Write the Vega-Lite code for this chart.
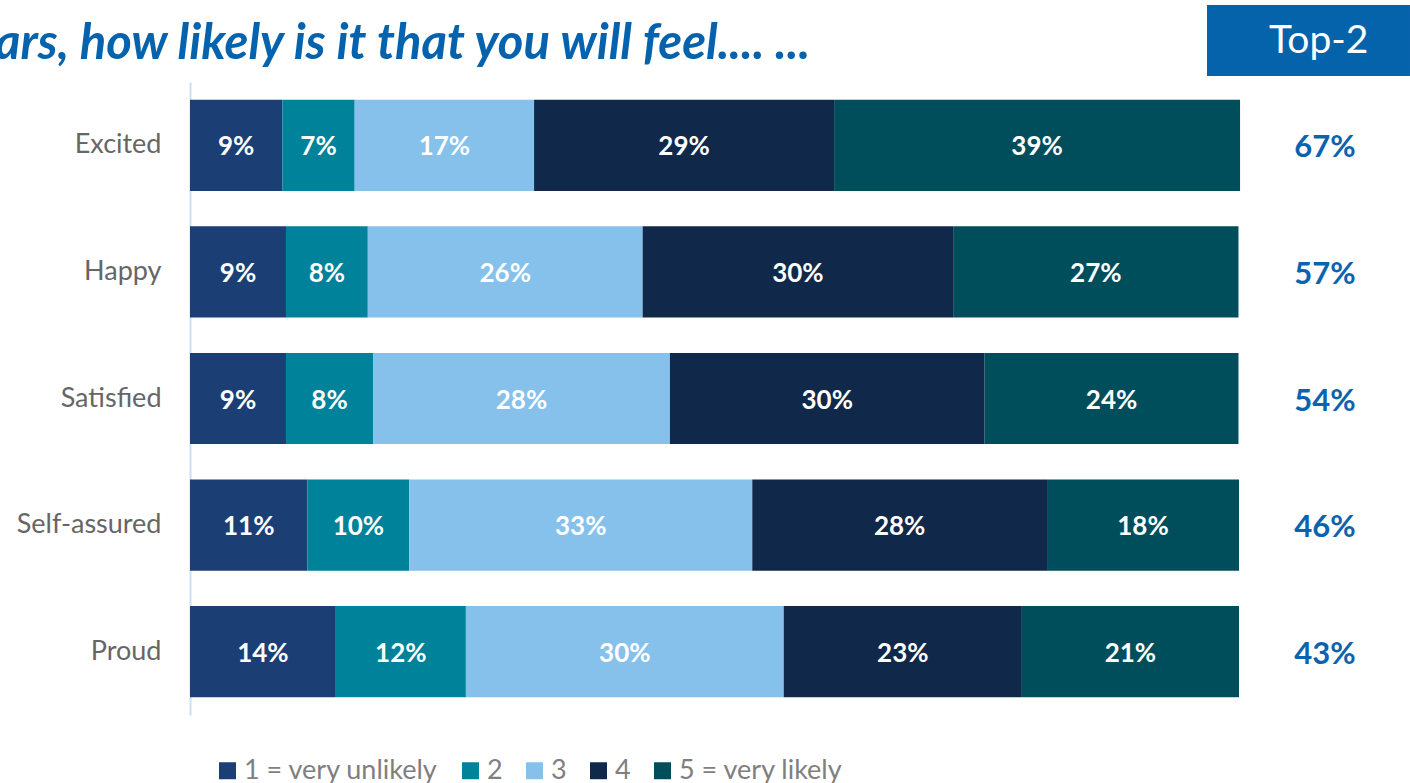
{
  "$schema": "https://vega.github.io/schema/vega-lite/v6.json",
  "width": 1049,
  "height": 633,
  "autosize": "none",
  "padding": {"left": 190, "top": 82, "right": 171, "bottom": 68},
  "background": "white",
  "datasets": {
    "bars": [
      {"row": "Excited", "cat": "1 = very unlikely", "k": 1, "value": 8.8, "label": "9%"},
      {"row": "Excited", "cat": "2", "k": 2, "value": 6.9, "label": "7%"},
      {"row": "Excited", "cat": "3", "k": 3, "value": 17.1, "label": "17%"},
      {"row": "Excited", "cat": "4", "k": 4, "value": 28.6, "label": "29%"},
      {"row": "Excited", "cat": "5 = very likely", "k": 5, "value": 38.7, "label": "39%"},
      {"row": "Happy", "cat": "1 = very unlikely", "k": 1, "value": 9.15, "label": "9%"},
      {"row": "Happy", "cat": "2", "k": 2, "value": 7.8, "label": "8%"},
      {"row": "Happy", "cat": "3", "k": 3, "value": 26.2, "label": "26%"},
      {"row": "Happy", "cat": "4", "k": 4, "value": 29.6, "label": "30%"},
      {"row": "Happy", "cat": "5 = very likely", "k": 5, "value": 27.2, "label": "27%"},
      {"row": "Satisfied", "cat": "1 = very unlikely", "k": 1, "value": 9.15, "label": "9%"},
      {"row": "Satisfied", "cat": "2", "k": 2, "value": 8.3, "label": "8%"},
      {"row": "Satisfied", "cat": "3", "k": 3, "value": 28.3, "label": "28%"},
      {"row": "Satisfied", "cat": "4", "k": 4, "value": 30.0, "label": "30%"},
      {"row": "Satisfied", "cat": "5 = very likely", "k": 5, "value": 24.2, "label": "24%"},
      {"row": "Self-assured", "cat": "1 = very unlikely", "k": 1, "value": 11.2, "label": "11%"},
      {"row": "Self-assured", "cat": "2", "k": 2, "value": 9.7, "label": "10%"},
      {"row": "Self-assured", "cat": "3", "k": 3, "value": 32.7, "label": "33%"},
      {"row": "Self-assured", "cat": "4", "k": 4, "value": 28.1, "label": "28%"},
      {"row": "Self-assured", "cat": "5 = very likely", "k": 5, "value": 18.3, "label": "18%"},
      {"row": "Proud", "cat": "1 = very unlikely", "k": 1, "value": 13.9, "label": "14%"},
      {"row": "Proud", "cat": "2", "k": 2, "value": 12.4, "label": "12%"},
      {"row": "Proud", "cat": "3", "k": 3, "value": 30.3, "label": "30%"},
      {"row": "Proud", "cat": "4", "k": 4, "value": 22.7, "label": "23%"},
      {"row": "Proud", "cat": "5 = very likely", "k": 5, "value": 20.7, "label": "21%"}
    ],
    "top2": [
      {"row": "Excited", "label": "67%"},
      {"row": "Happy", "label": "57%"},
      {"row": "Satisfied", "label": "54%"},
      {"row": "Self-assured", "label": "46%"},
      {"row": "Proud", "label": "43%"}
    ],
    "header": [{"label": "Top-2"}],
    "title": [{"label": "ars, how likely is it that you will feel.... ..."}]
  },
  "layer": [
    {
      "layer": [
        {
          "data": {"name": "bars"},
          "transform": [
            {"stack": "value", "groupby": ["row"], "sort": [{"field": "k", "order": "ascending"}], "as": ["x0", "x1"]},
            {"calculate": "(datum.x0 + datum.x1) / 2", "as": "xm"}
          ],
          "layer": [
            {
              "mark": {"type": "bar"},
              "encoding": {
                "y": {"field": "row", "type": "nominal", "sort": ["Excited", "Happy", "Satisfied", "Self-assured", "Proud"],
                      "scale": {"paddingInner": 0.28, "paddingOuter": 0.14},
                      "axis": {"title": null, "ticks": false, "labelFont": "Lato", "labelFontSize": 27, "labelColor": "#666666",
                               "labelPadding": 29, "domainColor": "#C9E0F5", "domainWidth": 2}},
                "x": {"field": "x0", "type": "quantitative", "scale": {"domain": [0, 100]}, "axis": null},
                "x2": {"field": "x1"},
                "color": {"field": "cat", "type": "nominal",
                          "scale": {"domain": ["1 = very unlikely", "2", "3", "4", "5 = very likely"],
                                    "range": ["#1B3F75", "#00829A", "#85C1EB", "#10284A", "#004E5C"]},
                          "legend": {"title": null, "orient": "none", "legendX": 24, "legendY": 675, "direction": "horizontal",
                                     "symbolType": "square", "symbolSize": 289, "symbolStrokeWidth": 0, "labelFont": "Lato",
                                     "labelFontSize": 27, "labelColor": "#7F7F7F", "labelOffset": 3, "columnPadding": 18, "labelLimit": 0}}
              }
            },
            {
              "mark": {"type": "text", "font": "Lato", "fontWeight": "bold", "fontSize": 26, "color": "white", "baseline": "middle", "dy": 2},
              "encoding": {
                "y": {"field": "row", "type": "nominal", "sort": ["Excited", "Happy", "Satisfied", "Self-assured", "Proud"]},
                "x": {"field": "xm", "type": "quantitative"},
                "text": {"field": "label"}
              }
            }
          ]
        },
        {
          "data": {"name": "top2"},
          "mark": {"type": "text", "font": "Lato", "fontWeight": "bold", "fontSize": 31, "color": "#0B63AE", "baseline": "middle", "dy": 3},
          "encoding": {
            "y": {"field": "row", "type": "nominal", "sort": ["Excited", "Happy", "Satisfied", "Self-assured", "Proud"]},
            "x": {"datum": 108.2, "type": "quantitative"},
            "text": {"field": "label"}
          }
        }
      ]
    },
    {
      "layer": [
        {
          "data": {"name": "header"},
          "mark": {"type": "rect", "color": "#0563AC"},
          "encoding": {
            "x": {"datum": 96.95, "type": "quantitative"},
            "x2": {"datum": 116.3},
            "y": {"datum": 100.95, "type": "quantitative", "scale": {"domain": [0, 100]}, "axis": null},
            "y2": {"datum": 112.16}
          }
        },
        {
          "data": {"name": "header"},
          "mark": {"type": "text", "font": "Lato", "fontSize": 39, "color": "white", "baseline": "middle"},
          "encoding": {
            "x": {"datum": 107.6, "type": "quantitative"},
            "y": {"datum": 106.4, "type": "quantitative"},
            "text": {"field": "label"}
          }
        },
        {
          "data": {"name": "title"},
          "mark": {"type": "text", "font": "Lato", "fontSize": 49, "fontStyle": "italic", "fontWeight": "bold", "color": "#0563AE", "align": "left", "baseline": "alphabetic"},
          "encoding": {
            "x": {"datum": -18.6, "type": "quantitative"},
            "y": {"datum": 103.7, "type": "quantitative"},
            "text": {"field": "label"}
          }
        }
      ]
    }
  ],
  "resolve": {"scale": {"y": "independent"}, "axis": {"y": "independent"}},
  "config": {"view": {"stroke": null}}
}
